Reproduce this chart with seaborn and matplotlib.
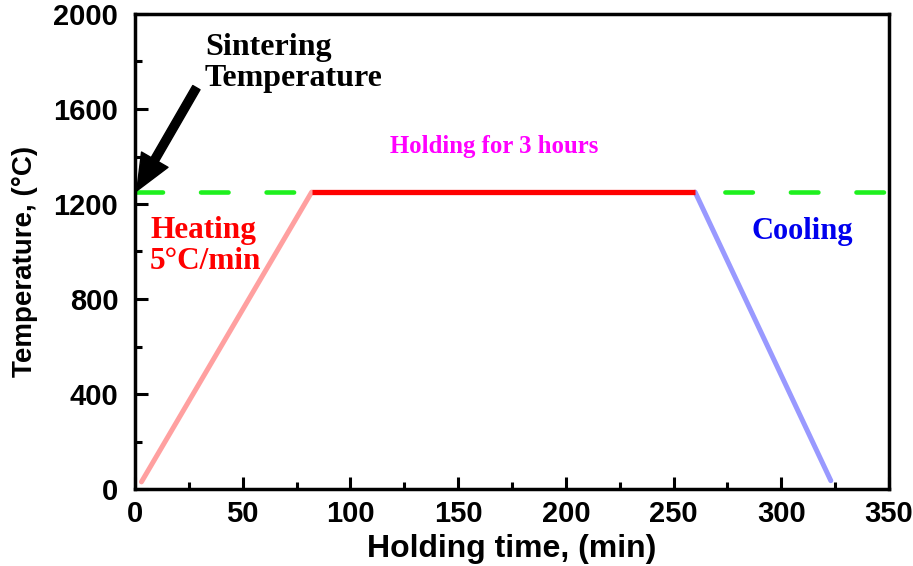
import matplotlib
matplotlib.use("Agg")
import matplotlib.pyplot as plt
import seaborn as sns
import pandas as pd
from matplotlib.ticker import MultipleLocator

# ---- data ----
heat_t = [3, 82]
heat_T = [30, 1250]
hold_t = [82, 260]
hold_T = [1250, 1250]
cool_t = [260, 323]
cool_T = [1250, 35]
sinter_t = [0, 348]
sinter_T = [1250, 1250]
x_ticks = [0, 50, 100, 150, 200, 250, 300, 350]
y_ticks = [0, 400, 800, 1200, 1600, 2000]

sns.set_theme(style="ticks")
plt.rcParams['font.family'] = ['Liberation Sans', 'DejaVu Sans']
plt.rcParams['text.color'] = 'black'
plt.rcParams['axes.labelcolor'] = 'black'
plt.rcParams['xtick.color'] = 'black'
plt.rcParams['ytick.color'] = 'black'

fig = plt.figure(figsize=(9.13, 5.66), dpi=100)
ax = fig.add_axes([135/913, 1-489/566, (889-135)/913, (489-14)/566])

sns.lineplot(x=sinter_t, y=sinter_T, ax=ax, color="#1ef01e", lw=3.3,
             dashes=False, zorder=2).lines[-1].set(dashes=(6, 8.3), dash_capstyle='round')
sns.lineplot(x=heat_t, y=heat_T, ax=ax, color="#ffa0a0", lw=3.6, zorder=3,
             solid_capstyle='round')
sns.lineplot(x=hold_t, y=hold_T, ax=ax, color="#ff0000", lw=3.8, zorder=4,
             solid_capstyle='butt')
sns.lineplot(x=cool_t, y=cool_T, ax=ax, color="#9999ff", lw=3.6, zorder=3,
             solid_capstyle='round')

ax.set_xlim(0, 350)
ax.set_ylim(0, 2000)
ax.set_xticks(x_ticks)
ax.set_yticks(y_ticks)
ax.xaxis.set_minor_locator(MultipleLocator(25))
ax.yaxis.set_minor_locator(MultipleLocator(200))
ax.tick_params(which='major', direction='in', length=9, width=2.2, labelsize=21,
               colors='black')
ax.tick_params(axis='x', which='major', pad=8)
ax.tick_params(axis='y', which='major', pad=12)
ax.tick_params(which='minor', direction='in', length=5, width=2.2, colors='black')
for lab in ax.get_xticklabels() + ax.get_yticklabels():
    lab.set_fontweight('bold')
for sp in ax.spines.values():
    sp.set_linewidth(2.5)
    sp.set_color('black')

ax.set_xlabel("Holding time, (min)", fontsize=23, fontweight='bold', labelpad=4,
              color='black')
ax.set_ylabel("Temperature, (°C)", fontsize=20, fontweight='bold',
              color='black')
ax.yaxis.set_label_coords(-0.128, 0.48)

serif = ['Liberation Serif', 'DejaVu Serif']
ax.text(32.5, 1920, "Sintering\nTemperature", family=serif, fontweight='bold',
        fontsize=23, va='top', ha='left', color='black', linespacing=1.1)
ax.annotate("", xy=(0.8, 1255), xytext=(28.5, 1690),
            arrowprops=dict(facecolor='black', edgecolor='black', width=6,
                            headwidth=22, headlength=26, shrink=0))
ax.text(166.5, 1440, "Holding for 3 hours", family=serif, fontweight='bold',
        fontsize=17.8, ha='center', va='center', color='#ff00ff')
ax.text(7, 1150, "Heating\n5°C/min", family=serif, fontweight='bold',
        fontsize=22.5, ha='left', va='top', color='#ff0000', linespacing=1.1)
ax.text(286, 1085, "Cooling", family=serif, fontweight='bold',
        fontsize=22, ha='left', va='center', color='#0000ee')

fig.savefig("out.png", dpi=100)
